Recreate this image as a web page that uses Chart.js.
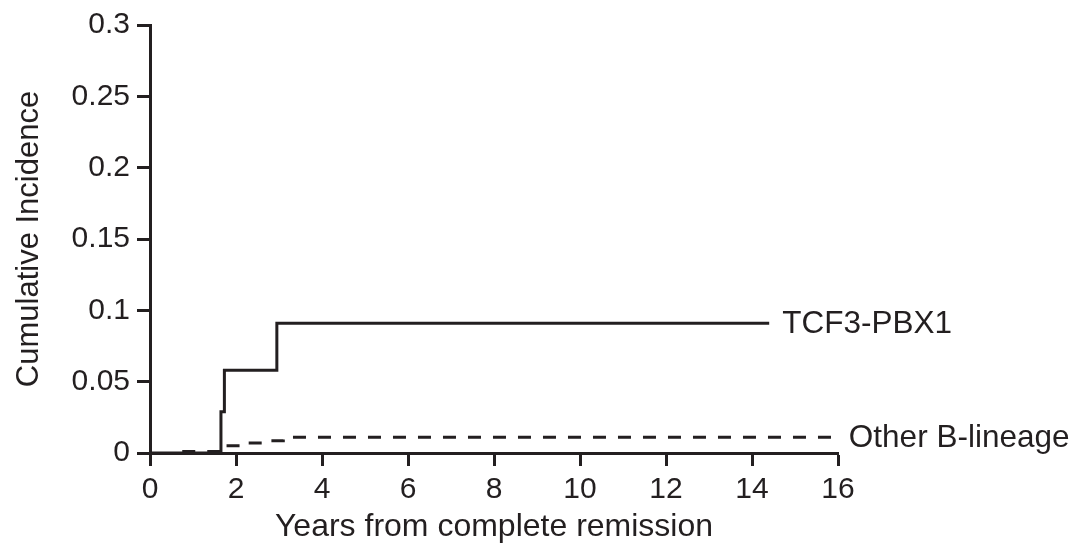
<!DOCTYPE html>
<html>
<head>
<meta charset="utf-8">
<script src="https://cdn.jsdelivr.net/npm/chart.js@4"></script>
<style>
  html, body { margin: 0; padding: 0; background: #fff; }
  #wrap { width: 1086px; height: 546px; }
</style>
</head>
<body>
<div id="wrap"><canvas id="chart" width="1086" height="546"></canvas></div>
<script>
// step curves: years from CR and cumulative incidence at each step
const tcfYears = [0, 1.65, 1.73, 2.95, 14.4];
const tcfValues = [0, 0.029, 0.058, 0.091, 0.091];
const otherYears = [0.75, 1.65, 2.1, 2.6, 3.1, 15.95];
const otherValues = [0.001, 0.005, 0.007, 0.0086, 0.011, 0.011];
const xTicks = [0, 2, 4, 6, 8, 10, 12, 14, 16];
const yTicks = [0, 0.05, 0.1, 0.15, 0.2, 0.25, 0.3];
const seriesNames = ['TCF3-PBX1', 'Other B-lineage'];

const ink = '#231f20';
const font = 'Arial, "Liberation Sans", sans-serif';

function toPoints(xs, ys) {
    return xs.map((x, i) => ({ x: x, y: ys[i] }));
}

// draws series names just right of the end of each curve
const endLabels = {
    id: 'endLabels',
    afterDatasetsDraw(chart) {
        const ctx = chart.ctx;
        const xs = chart.scales.x, ys = chart.scales.y;
        ctx.save();
        ctx.fillStyle = ink;
        ctx.font = '31.5px ' + font;
        ctx.textBaseline = 'middle';
        chart.data.datasets.forEach(ds => {
            const last = ds.data[ds.data.length - 1];
            ctx.fillText(ds.label, xs.getPixelForValue(last.x) + 13, ys.getPixelForValue(last.y) + 1);
        });
        ctx.restore();
    }
};

const ctx = document.getElementById('chart').getContext('2d');
new Chart(ctx, {
    type: 'line',
    data: {
        datasets: [
            {
                label: seriesNames[0],
                data: toPoints(tcfYears, tcfValues),
                stepped: 'before',
                borderColor: ink,
                borderWidth: 3,
                pointRadius: 0,
                fill: false
            },
            {
                label: seriesNames[1],
                data: toPoints(otherYears, otherValues),
                stepped: 'before',
                borderColor: ink,
                borderWidth: 3,
                borderDash: [13, 12],
                pointRadius: 0,
                fill: false
            }
        ]
    },
    options: {
        responsive: false,
        animation: false,
        layout: { padding: { left: 0, top: 19, right: 248, bottom: 0 } },
        plugins: { legend: { display: false }, tooltip: { enabled: false } },
        scales: {
            x: {
                type: 'linear',
                min: 0, max: 16,
                afterBuildTicks: axis => { axis.ticks = xTicks.map(v => ({ value: v })); },
                afterFit: axis => { axis.height = 93; },
                border: { display: true, color: ink, width: 3 },
                grid: { drawOnChartArea: false, drawTicks: true, tickLength: 13, tickWidth: 3, tickColor: ink },
                ticks: { color: ink, font: { family: font, size: 30 }, padding: 6, maxRotation: 0 },
                title: { display: true, text: 'Years from complete remission', color: ink, font: { family: font, size: 32 }, padding: { top: 0, bottom: 0 } }
            },
            y: {
                type: 'linear',
                min: 0, max: 0.3,
                afterBuildTicks: axis => { axis.ticks = yTicks.map(v => ({ value: v })); },
                afterFit: axis => { axis.width = 150; },
                border: { display: true, color: ink, width: 3 },
                grid: { drawOnChartArea: false, drawTicks: true, tickLength: 13, tickWidth: 3, tickColor: ink },
                ticks: { color: ink, font: { family: font, size: 30 }, padding: 7, callback: v => String(v) },
                title: { display: true, text: 'Cumulative Incidence', color: ink, font: { family: font, size: 31 }, padding: { top: 11, bottom: 0 } }
            }
        }
    },
    plugins: [endLabels]
});
</script>
</body>
</html>
